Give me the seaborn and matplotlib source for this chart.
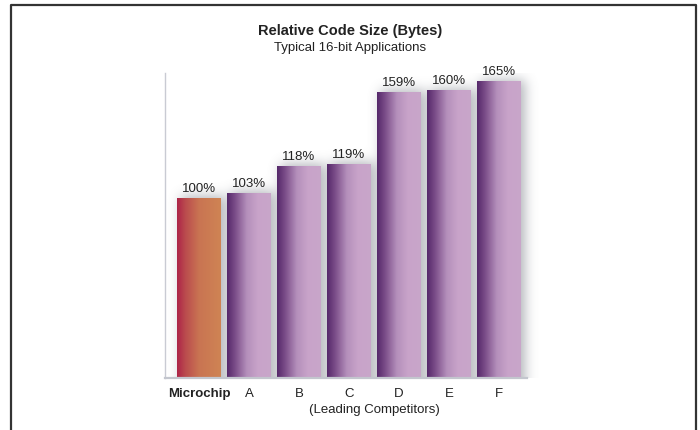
import numpy as np
import pandas as pd
import matplotlib
matplotlib.use("Agg")
import matplotlib.pyplot as plt
import matplotlib.transforms as mtransforms
from matplotlib.colors import LinearSegmentedColormap
import seaborn as sns

categories = ["Microchip", "A", "B", "C", "D", "E", "F"]
values = [100, 103, 118, 119, 159, 160, 165]
labels = ["100%", "103%", "118%", "119%", "159%", "160%", "165%"]
title = "Relative Code Size (Bytes)"
subtitle = "Typical 16-bit Applications"
group_label = "(Leading Competitors)"

sns.set_style("white")
plt.rcParams["font.family"] = ["Liberation Sans", "DejaVu Sans"]

df = pd.DataFrame({"cat": categories, "val": values})

fig = plt.figure(figsize=(7, 4.3), dpi=100)
ax_w_px, ax_h_px = 527 - 165, 378 - 73
ax = fig.add_axes([165 / 700, 1 - 378 / 430, ax_w_px / 700, ax_h_px / 430])

sns.barplot(data=df, x="cat", y="val", ax=ax, width=0.88, color="#b08ab8",
            saturation=1, zorder=3)

xlim = (-0.68, 6.56)
ylim = (0, 169.5)

purple = LinearSegmentedColormap.from_list(
    "purp", [(0.0, "#55286a"), (0.18, "#7a4c88"), (0.45, "#b48fbb"),
             (0.7, "#c8a3c9"), (1.0, "#c9a6ca")])
orange = LinearSegmentedColormap.from_list(
    "orng", [(0.0, "#ad2448"), (0.2, "#bb4d4e"), (0.5, "#c97452"),
             (1.0, "#cf8454")])

# blurred drop shadow built from the bar patches
nx, ny = ax_w_px + 40, ax_h_px
xs = np.linspace(xlim[0], xlim[1] + 40 * (xlim[1] - xlim[0]) / ax_w_px, nx)
ys = np.linspace(ylim[1], ylim[0], ny)
X, Y = np.meshgrid(xs, ys)
mask = np.zeros_like(X)
px_x = (xlim[1] - xlim[0]) / ax_w_px
px_y = (ylim[1] - ylim[0]) / ax_h_px
for p in ax.patches:
    x0, w, h = p.get_x(), p.get_width(), p.get_height()
    sx, sy = 4 * px_x, -1 * px_y
    inside = (X >= x0 + sx) & (X <= x0 + w + sx) & (Y <= h + sy + 3 * px_y)
    mask[inside] = 1.0
sig = 6.0
k = np.arange(-18, 19)
kern = np.exp(-k ** 2 / (2 * sig ** 2))
kern /= kern.sum()
pad = np.pad(mask, 18, mode="edge")
blur = np.apply_along_axis(lambda r: np.convolve(r, kern, mode="same"), 1, pad)
blur = np.apply_along_axis(lambda c: np.convolve(c, kern, mode="same"), 0, blur)
blur = blur[18:-18, 18:-18]
rgba = np.zeros((ny, nx, 4))
rgba[..., 0] = 0.42
rgba[..., 1] = 0.44
rgba[..., 2] = 0.48
rgba[..., 3] = 0.52 * blur
ax.imshow(rgba, extent=(xs[0], xs[-1], ylim[0], ylim[1]), aspect="auto",
          zorder=1, interpolation="bilinear", clip_on=False)

grad = np.linspace(0, 1, 256).reshape(1, -1)
for i, p in enumerate(ax.patches):
    x0, y0 = p.get_x(), p.get_y()
    w, h = p.get_width(), p.get_height()
    cmap = orange if i == 0 else purple
    im = ax.imshow(grad, cmap=cmap, extent=(x0, x0 + w, y0, y0 + h),
                   aspect="auto", zorder=4, interpolation="bilinear")
    im.set_clip_path(p)
    p.set_edgecolor("none")

ax.set_xlim(*xlim)
ax.set_ylim(*ylim)

for i, p in enumerate(ax.patches[:len(values)]):
    ax.text(p.get_x() + p.get_width() / 2, p.get_height() + 1.5, labels[i],
            ha="center", va="bottom", fontsize=9.5, color="#222222", zorder=6)

ax.set_xlabel("")
ax.set_ylabel("")
ax.set_yticks([])
ax.tick_params(axis="x", length=0, pad=7, labelsize=9.5, labelcolor="#222222")
ticklabels = ax.get_xticklabels()
ticklabels[0].set_fontweight("bold")

for s in ["top", "right"]:
    ax.spines[s].set_visible(False)
ax.spines["left"].set_color("#c9cbd3")
ax.spines["left"].set_linewidth(1.0)
ax.spines["bottom"].set_color("#c3c6ce")
ax.spines["bottom"].set_linewidth(1.6)
ax.spines["left"].set_zorder(5)
ax.spines["bottom"].set_zorder(5)

trans = mtransforms.blended_transform_factory(ax.transData, fig.transFigure)
ax.text(3.5, 1 - 410 / 430, group_label, transform=trans, ha="center",
        va="center", fontsize=9.5, color="#222222")

fig.text(0.5, 1 - 31 / 430, title, ha="center", va="center", fontsize=10.5,
         fontweight="bold", color="#222222")
fig.text(0.5, 1 - 48 / 430, subtitle, ha="center", va="center", fontsize=9.5,
         color="#222222")

# outer frame (open at the bottom)
frame_x = [11 / 700, 11 / 700, 696 / 700, 696 / 700]
frame_y = [0, 1 - 5 / 430, 1 - 5 / 430, 0]
fig.add_artist(plt.Line2D(frame_x, frame_y, transform=fig.transFigure,
                          color="#333333", linewidth=1.6))

fig.savefig("out.png", dpi=100)
